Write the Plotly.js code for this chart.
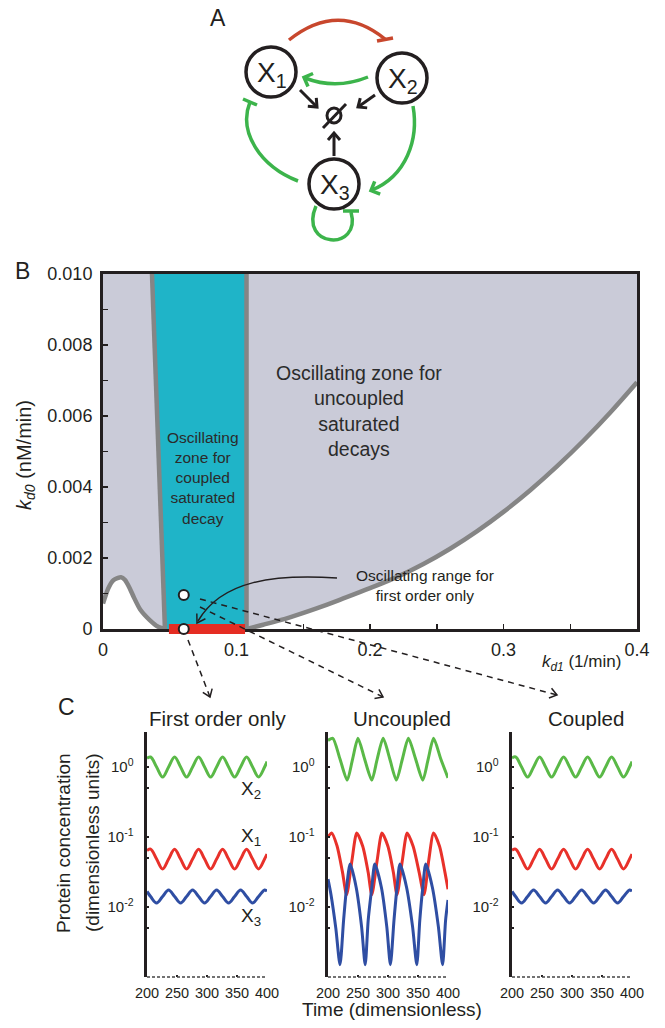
<!DOCTYPE html>
<html><head><meta charset="utf-8">
<script src="https://cdn.plot.ly/plotly-3.0.1.min.js"></script>
<style>html,body{margin:0;padding:0;background:#fff}</style>
</head><body><div id="chart" style="width:665px;height:1028px"></div>
<script>
// ================= Panel B data =================
const bRangeX = [0, 0.4];
const bRangeY = [0, 0.010];
const humpX = [0, 0.004, 0.008, 0.0135, 0.0165, 0.020, 0.023, 0.028, 0.035, 0.041, 0.0464];
const humpY = [0.00072, 0.00115, 0.00138, 0.00146, 0.00138, 0.00115, 0.0009, 0.00054, 0.00025, 0.00007, 0];
const leftBoundX = [0.0367, 0.0464];
const leftBoundY = [0.010, 0];
const rightBoundX = [0.1075, 0.1075];
const rightBoundY = [0.010, 0];
const curveX = [0.1075, 0.12, 0.14, 0.16, 0.18, 0.2, 0.22, 0.24, 0.26, 0.28, 0.3, 0.32, 0.34, 0.36, 0.38, 0.4];
const curveY = [0, 0.00012, 0.00033, 0.00058, 0.00086, 0.00115, 0.00146, 0.00183, 0.00226, 0.00275, 0.0033, 0.00391, 0.00458, 0.00531, 0.0061, 0.00695];
const firstOrderRange = [0.0494, 0.1064];
const pickX = [0.0605, 0.0605];
const pickY = [0.00096, 0];
const bTickX = [0, 0.1, 0.2, 0.3, 0.4];
const bTickXText = ['0', '0.1', '0.2', '0.3', '0.4'];
const bTickY = [0, 0.002, 0.004, 0.006, 0.008, 0.010];
const bTickYText = ['0', '0.002', '0.004', '0.006', '0.008', '0.010'];

// ================= Panel C data =================
const tFirst = [200, 206, 216, 226, 236, 246, 256, 266, 276, 286, 296, 306, 316, 326, 336, 346, 356, 366, 376, 386, 396, 400];
const firstX2 = [1.33, 1.39, 1.0, 0.72, 1.0, 1.39, 1.0, 0.72, 1.0, 1.39, 1.0, 0.72, 1.0, 1.39, 1.0, 0.72, 1.0, 1.39, 1.0, 0.72, 1.0, 1.2];
const firstX1 = [0.064, 0.067, 0.0485, 0.035, 0.0485, 0.067, 0.0485, 0.035, 0.0485, 0.067, 0.0485, 0.035, 0.0485, 0.067, 0.0485, 0.035, 0.0485, 0.067, 0.0485, 0.035, 0.0485, 0.057];
const firstX3 = [0.0167, 0.0141, 0.0114, 0.0141, 0.0175, 0.0141, 0.0114, 0.0141, 0.0175, 0.0141, 0.0114, 0.0141, 0.0175, 0.0141, 0.0114, 0.0141, 0.0175, 0.0141, 0.0114, 0.0141, 0.0175, 0.0168];

const tUncX2 = [200, 208, 220, 232, 241, 250, 261, 273, 282, 292, 303, 314, 324, 334, 346, 358, 367, 376, 388, 400];
const uncX2 = [2.4, 2.57, 1.3, 0.65, 1.3, 2.57, 1.3, 0.65, 1.3, 2.57, 1.3, 0.65, 1.3, 2.57, 1.3, 0.65, 1.3, 2.57, 1.3, 0.7];
const tUncX1 = [200, 206, 215, 224, 231, 240, 248, 258, 267, 273, 282, 290, 300, 309, 315, 324, 332, 342, 352, 360, 368, 376, 386, 395, 400];
const uncX1 = [0.1, 0.114, 0.075, 0.032, 0.015, 0.047, 0.114, 0.073, 0.031, 0.015, 0.047, 0.114, 0.073, 0.031, 0.015, 0.047, 0.114, 0.073, 0.031, 0.015, 0.047, 0.114, 0.073, 0.031, 0.018];
const tUncX3 = [200, 205, 213, 220, 226, 231, 237, 247, 256, 262, 267, 273, 278, 289, 298, 304, 310, 315, 320, 331, 341, 348, 353, 358, 363, 374, 384, 391, 396, 400];
const uncX3 = [0.025, 0.015, 0.005, 0.0015, 0.0065, 0.019, 0.041, 0.019, 0.0052, 0.0015, 0.0065, 0.019, 0.041, 0.019, 0.0052, 0.0015, 0.0065, 0.019, 0.041, 0.019, 0.0052, 0.0015, 0.0065, 0.019, 0.041, 0.019, 0.0052, 0.0015, 0.0065, 0.0126];

const tCoupled = [200, 206, 216, 226, 236, 246, 256, 266, 276, 286, 296, 306, 316, 326, 336, 346, 356, 366, 376, 386, 396, 400];
const coupledX2 = [1.35, 1.39, 1.0, 0.72, 1.0, 1.39, 1.0, 0.72, 1.0, 1.39, 1.0, 0.72, 1.0, 1.39, 1.0, 0.72, 1.0, 1.39, 1.0, 0.72, 1.0, 1.2];
const coupledX1 = [0.065, 0.067, 0.0485, 0.035, 0.0485, 0.067, 0.0485, 0.035, 0.0485, 0.067, 0.0485, 0.035, 0.0485, 0.067, 0.0485, 0.035, 0.0485, 0.067, 0.0485, 0.035, 0.0485, 0.057];
const coupledX3 = [0.0167, 0.0141, 0.0114, 0.0141, 0.0175, 0.0141, 0.0114, 0.0141, 0.0175, 0.0141, 0.0114, 0.0141, 0.0175, 0.0141, 0.0114, 0.0141, 0.0175, 0.0141, 0.0114, 0.0141, 0.0175, 0.0168];

const cTickT = [200, 250, 300, 350, 400];
const cTickVals = [0.01, 0.1, 1];
const cTickText = ['10<sup>-2</sup>', '10<sup>-1</sup>', '10<sup>0</sup>'];
const cMinorVals = [0.005, 0.05, 0.5];
const panelTitles = ['First order only', 'Uncoupled', 'Coupled'];
const speciesLabels = ['X<sub>2</sub>', 'X<sub>1</sub>', 'X<sub>3</sub>'];

// ================= Styles =================
const FONT = 'Liberation Sans, Arial, Helvetica, sans-serif';
const INK = '#231f20';
const GRAYFILL = '#cacbd8';
const TEAL = '#1fb4c8';
const EDGE = '#858585';
const RED = '#e52d23';
const GREEN = '#5ab947';
const CRED = '#e8312a';
const BLUE = '#2f4ea3';
const AGREEN = '#3cb44b';
const ARED = '#c8472d';

// panel B pixel frame
const bTopPx = 274, bBotPx = 629, bLeftPx = 103, bRightPx = 637, bPadPx = 7;
const bUnitPerPx = (bRangeY[1] - bRangeY[0]) / (bBotPx - bTopPx);

const traces = [];
traces.push({x: [bRangeX[0], leftBoundX[0], leftBoundX[1]].concat(humpX.slice().reverse()),
  y: [bRangeY[1], leftBoundY[0], leftBoundY[1]].concat(humpY.slice().reverse()),
  fill: 'toself', fillcolor: GRAYFILL, mode: 'lines', line: {width: 0, shape: 'spline', smoothing: 0.6}, xaxis: 'x', yaxis: 'y', hoverinfo: 'skip'});
traces.push({x: [leftBoundX[0], rightBoundX[0], rightBoundX[1], leftBoundX[1]],
  y: [leftBoundY[0], rightBoundY[0], rightBoundY[1], leftBoundY[1]],
  fill: 'toself', fillcolor: TEAL, mode: 'lines', line: {width: 0}, xaxis: 'x', yaxis: 'y', hoverinfo: 'skip'});
traces.push({x: [rightBoundX[0], bRangeX[1]].concat(curveX.slice().reverse()),
  y: [rightBoundY[0], bRangeY[1]].concat(curveY.slice().reverse()),
  fill: 'toself', fillcolor: GRAYFILL, mode: 'lines', line: {width: 0}, xaxis: 'x', yaxis: 'y', hoverinfo: 'skip'});
[[humpX, humpY, 0.6], [leftBoundX, leftBoundY, 0], [rightBoundX, rightBoundY, 0], [curveX, curveY, 1]].forEach(function (p) {
  traces.push({x: p[0], y: p[1], mode: 'lines', line: {color: EDGE, width: 4.5, shape: p[2] ? 'spline' : 'linear', smoothing: p[2] || 1},
    xaxis: 'x', yaxis: 'y', hoverinfo: 'skip'});
});
traces.push({x: firstOrderRange, y: [0, 0], mode: 'lines', line: {color: RED, width: 10}, xaxis: 'x6', yaxis: 'y6', hoverinfo: 'skip'});
traces.push({x: pickX, y: pickY, mode: 'markers', cliponaxis: false,
  marker: {size: 10, color: '#fff', line: {color: INK, width: 2}}, xaxis: 'x6', yaxis: 'y6', hoverinfo: 'skip'});

const cSets = [
  [[tFirst, firstX2], [tFirst, firstX1], [tFirst, firstX3]],
  [[tUncX2, uncX2], [tUncX1, uncX1], [tUncX3, uncX3]],
  [[tCoupled, coupledX2], [tCoupled, coupledX1], [tCoupled, coupledX3]]
];
const cColors = [GREEN, CRED, BLUE];
cSets.forEach(function (set, k) {
  set.forEach(function (s, j) {
    traces.push({x: s[0], y: s[1], mode: 'lines',
      line: {color: cColors[j], width: 3, shape: 'spline', smoothing: k === 1 ? 0.7 : 1},
      xaxis: 'x' + (k + 2), yaxis: 'y' + (k + 2), hoverinfo: 'skip'});
  });
});
traces.push({x: [-50], y: [-50], mode: 'markers', marker: {opacity: 0}, xaxis: 'x5', yaxis: 'y5', hoverinfo: 'skip'});

function pxX(p) { return p / 665; }
function pxY(p) { return 1 - p / 1028; }

const cDomX = [[147, 267], [328, 448], [512, 632]];
const layout = {
  width: 665, height: 1028, margin: {l: 0, r: 0, t: 0, b: 0},
  paper_bgcolor: '#fff', plot_bgcolor: 'rgba(0,0,0,0)', showlegend: false, hovermode: false,
  font: {family: FONT, color: INK},
  xaxis: {domain: [pxX(bLeftPx), pxX(bRightPx)], range: bRangeX, anchor: 'y', tickvals: bTickX, ticktext: bTickXText,
    ticks: 'inside', ticklen: 5, tickwidth: 1.5, tickcolor: INK, showline: true, mirror: true, linewidth: 3, linecolor: INK,
    minor: {dtick: 0.05, ticks: 'inside', ticklen: 5, tickwidth: 1.5, tickcolor: INK, showgrid: false},
    showgrid: false, zeroline: false, tickfont: {size: 18, family: FONT, color: INK}, ticklabelstandoff: 2},
  yaxis: {domain: [pxY(bBotPx), pxY(bTopPx)], range: bRangeY, anchor: 'x', tickvals: bTickY, ticktext: bTickYText,
    ticks: 'inside', ticklen: 5, tickwidth: 1.5, tickcolor: INK, showline: true, mirror: true, linewidth: 3, linecolor: INK,
    minor: {dtick: 0.001, ticks: 'inside', ticklen: 5, tickwidth: 1.5, tickcolor: INK, showgrid: false},
    showgrid: false, zeroline: false, tickfont: {size: 18, family: FONT, color: INK}, ticklabelstandoff: 4},
  xaxis6: {domain: [pxX(bLeftPx), pxX(bRightPx)], range: bRangeX, anchor: 'y6', visible: false},
  yaxis6: {domain: [pxY(bBotPx + bPadPx), pxY(bTopPx)], range: [bRangeY[0] - bPadPx * bUnitPerPx, bRangeY[1]], anchor: 'x6', visible: false},
  xaxis5: {domain: [0, 1], range: [0, 665], visible: false, anchor: 'y5', fixedrange: true},
  yaxis5: {domain: [0, 1], range: [1028, 0], visible: false, anchor: 'x5', fixedrange: true},
  shapes: [], annotations: []
};
for (let k = 0; k < 3; k++) {
  layout['xaxis' + (k + 2)] = {domain: [pxX(cDomX[k][0]), pxX(cDomX[k][1])], range: [200, 400], anchor: 'y' + (k + 2),
    tickvals: cTickT, ticks: 'inside', ticklen: 2, tickwidth: 2, tickcolor: INK, showline: false, showgrid: false, zeroline: false,
    tickfont: {size: 14.5, family: FONT, color: INK}, ticklabelstandoff: 5};
  layout['yaxis' + (k + 2)] = {domain: [pxY(977), pxY(732)], type: 'log', range: [-3, 0.5], anchor: 'x' + (k + 2),
    tickvals: cTickVals, ticktext: cTickText, ticks: 'inside', ticklen: 2, tickwidth: 2.5, tickcolor: INK,
    minor: {tickvals: cMinorVals, ticks: 'inside', ticklen: 2, tickwidth: 2.5, tickcolor: INK, showgrid: false},
    showline: true, linewidth: 3.5, linecolor: INK, showgrid: false, zeroline: false,
    tickfont: {size: 15, family: FONT, color: INK}, ticklabelstandoff: 7};
  layout.shapes.push({type: 'line', xref: 'x' + (k + 2) + ' domain', yref: 'y' + (k + 2) + ' domain', x0: 0, x1: 1, y0: 0, y1: 0,
    line: {color: '#444', width: 1.5, dash: '3px,2px'}});
}

const S = layout.shapes, A = layout.annotations;
function ov(o) { o.xref = 'x5'; o.yref = 'y5'; if (!o.layer) o.layer = 'above'; return o; }
function txt(x, y, text, size, extra) {
  const a = {x: x, y: y, xref: 'x5', yref: 'y5', text: text, showarrow: false, font: {size: size, family: FONT, color: INK},
    xanchor: 'center', yanchor: 'middle'};
  return Object.assign(a, extra || {});
}
function chevron(tx, ty, dx, dy, L, W, color, w) {
  const n = Math.hypot(dx, dy), ux = dx / n, uy = dy / n, nx = -uy, ny = ux;
  const p1 = [tx - L * ux + W * nx, ty - L * uy + W * ny];
  const p2 = [tx - L * ux - W * nx, ty - L * uy - W * ny];
  return ov({type: 'path', path: 'M ' + p1[0] + ' ' + p1[1] + ' L ' + tx + ' ' + ty + ' L ' + p2[0] + ' ' + p2[1],
    line: {color: color, width: w}});
}
function straightArrow(x0, y0, x1, y1, color, w, L, W, dash) {
  S.push(ov({type: 'line', x0: x0, y0: y0, x1: x1, y1: y1, line: {color: color, width: w, dash: dash || 'solid'}}));
  S.push(chevron(x1, y1, x1 - x0, y1 - y0, L, W, color, w));
}

// ---------- Panel A diagram ----------
const nodeCenters = [[271, 72], [402, 78], [334, 184]];
const nodeNames = ['X<sub>1</sub>', 'X<sub>2</sub>', 'X<sub>3</sub>'];
S.push(ov({type: 'path', path: 'M 289 40 Q 338 1 385 39', line: {color: ARED, width: 3.5}}));
S.push(ov({type: 'line', x0: 377, y0: 41, x1: 393, y1: 38, line: {color: ARED, width: 3.5}}));
S.push(ov({type: 'path', path: 'M 368 77 Q 336 90 305 78', line: {color: AGREEN, width: 3.5}}));
S.push(chevron(304, 77.5, -31, -12, 7, 7, AGREEN, 3.5));
S.push(ov({type: 'path', path: 'M 413 106 C 419 140, 406 176, 372 190', line: {color: AGREEN, width: 3.5}}));
S.push(chevron(371, 190.5, -33, 14, 7, 7, AGREEN, 3.5));
S.push(ov({type: 'path', path: 'M 298 181 C 260 166, 238 132, 250 102', line: {color: AGREEN, width: 3.5}}));
S.push(ov({type: 'line', x0: 243, y0: 99, x1: 257, y1: 105, line: {color: AGREEN, width: 3.5}}));
S.push(ov({type: 'path', path: 'M 316 206 C 298 248, 362 252, 351 212', line: {color: AGREEN, width: 3.5}}));
S.push(ov({type: 'line', x0: 343, y0: 211, x1: 359, y1: 211, line: {color: AGREEN, width: 3.5}}));
nodeCenters.forEach(function (c, i) {
  S.push(ov({type: 'circle', x0: c[0] - 25, x1: c[0] + 25, y0: c[1] - 25, y1: c[1] + 25, fillcolor: '#fff', line: {color: INK, width: 3.5}}));
  A.push(txt(c[0] + 1, c[1] + 2, nodeNames[i], 28));
});
S.push(ov({type: 'circle', x0: 327, x1: 341, y0: 108, y1: 123, line: {color: INK, width: 3}}));
S.push(ov({type: 'line', x0: 323, y0: 128, x1: 346, y1: 104, line: {color: INK, width: 3}}));
straightArrow(300, 90, 317, 107, INK, 3, 7, 6);
straightArrow(375, 95, 358, 107, INK, 3, 7, 6);
straightArrow(334, 156, 334, 133, INK, 3, 7, 6);

A.push(txt(218, 18, 'A', 23));
A.push(txt(22, 271, 'B', 23));
A.push(txt(66, 707, 'C', 23));

// ---------- Panel B labels ----------
A.push(txt(359, 411, 'Oscillating zone for<br>uncoupled<br>saturated<br>decays', 19.5, {font: {size: 19.5, family: FONT, color: '#2b2b2b'}}));
A.push(txt(203, 478, 'Oscillating<br>zone for<br>coupled<br>saturated<br>decay', 15.5, {font: {size: 15.5, family: FONT, color: '#2b2b2b'}}));
A.push(txt(425, 585, 'Oscillating range for<br>first order only', 15.5));
A.push(txt(25, 455, '<i>k</i><sub><i>d0</i></sub> (nM/min)', 20, {textangle: -90}));
A.push(txt(581, 663, '<i>k</i><sub><i>d1</i></sub> (1/min)', 17));
S.push(ov({type: 'path', path: 'M 337 578 C 275 574, 222 580, 198 621', line: {color: INK, width: 1.5}}));
S.push(chevron(197, 623, -24, 40, 8, 5, INK, 1.5));
straightArrow(188, 640, 210, 697, INK, 1.5, 7, 5, '6px,5px');
straightArrow(200, 607, 383, 697, INK, 1.5, 7, 5, '6px,5px');
straightArrow(200, 599, 557, 695, INK, 1.5, 7, 5, '6px,5px');

// ---------- Panel C labels ----------
const titleX = [217, 402, 586];
panelTitles.forEach(function (t, i) { A.push(txt(titleX[i], 718, t, 20.5)); });
const specY = [790, 837, 917];
speciesLabels.forEach(function (t, i) { A.push(txt(251, specY[i], t, 19)); });
A.push(txt(63, 843, 'Protein concentration', 19, {textangle: -90}));
A.push(txt(92, 843, '(dimensionless units)', 19, {textangle: -90}));
A.push(txt(392, 1009, 'Time (dimensionless)', 19));

Plotly.newPlot('chart', traces, layout, {staticPlot: true, displayModeBar: false});
</script>
</body></html>
